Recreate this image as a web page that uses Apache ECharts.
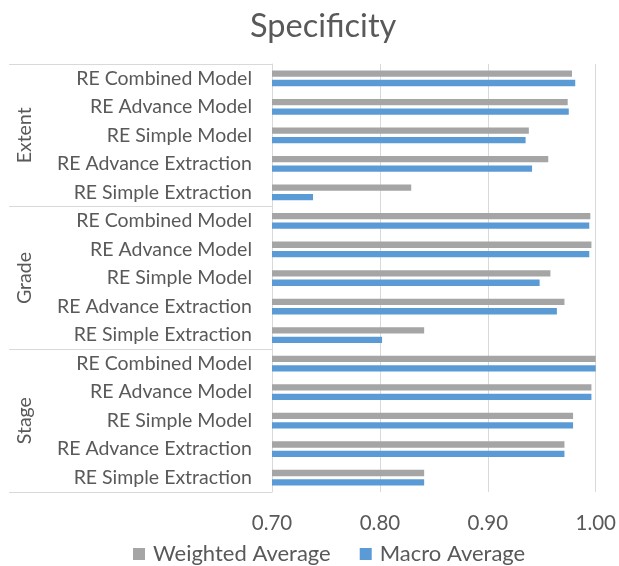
<!DOCTYPE html>
<html>
<head>
<meta charset="utf-8">
<script src="https://cdn.jsdelivr.net/npm/echarts@6/dist/echarts.min.js"></script>
<style>html,body{margin:0;padding:0;background:#fff}#c{width:619px;height:566px}</style>
</head>
<body>
<div id="c"></div>
<script>
const groups = ['Extent', 'Grade', 'Stage'];
const models = ['RE Combined Model', 'RE Advance Model', 'RE Simple Model', 'RE Advance Extraction', 'RE Simple Extraction'];
const categories = [].concat(models, models, models);
const weightedAverage = [0.978, 0.974, 0.938, 0.956, 0.829,
                         0.995, 0.996, 0.958, 0.971, 0.841,
                         1.000, 0.996, 0.979, 0.971, 0.841];
const macroAverage    = [0.981, 0.975, 0.935, 0.941, 0.738,
                         0.994, 0.994, 0.948, 0.964, 0.802,
                         1.000, 0.996, 0.979, 0.971, 0.841];
const xTicks = { min: 0.70, max: 1.00, interval: 0.10 };

const FONT = 'Lato';
const TXT = '#595959';
const LINE = '#d9d9d9';

const chart = echarts.init(document.getElementById('c'), null, { renderer: 'canvas' });
chart.setOption({
  animation: false,
  textStyle: { fontFamily: FONT },
  title: {
    text: 'Specificity', left: 245, top: 5,
    textStyle: { fontFamily: FONT, fontSize: 32.5, fontWeight: 'normal', color: TXT }
  },
  legend: {
    bottom: -4, left: 128, itemWidth: 12, itemHeight: 12, itemGap: 29, icon: 'rect',
    textStyle: { fontFamily: FONT, fontSize: 22, color: TXT, padding: [0, 0, 0, 3] }
  },
  grid: { left: 272, right: 23, top: 64, bottom: 74, containLabel: false },
  xAxis: {
    type: 'value', min: xTicks.min, max: xTicks.max, interval: xTicks.interval,
    axisLine: { show: false }, axisTick: { show: false },
    splitLine: { show: true, lineStyle: { color: LINE, width: 1 } },
    axisLabel: { formatter: v => v.toFixed(2), fontFamily: FONT, fontSize: 20.5, color: TXT, margin: 21 }
  },
  yAxis: [
    {
      type: 'category', data: categories, inverse: true,
      axisLine: { show: true, lineStyle: { color: LINE, width: 1 } },
      axisTick: { show: false },
      axisLabel: { fontFamily: FONT, fontSize: 19.5, color: TXT, margin: 20, interval: 0 }
    },
    {
      type: 'category', data: groups, inverse: true, position: 'left', offset: 0,
      axisLine: { show: false },
      axisTick: { show: true, length: 263, lineStyle: { color: LINE, width: 1 } },
      axisLabel: { fontFamily: FONT, fontSize: 19.5, color: TXT, rotate: 90, margin: 237, interval: 0 }
    }
  ],
  series: [
    {
      name: 'Weighted Average', type: 'bar', data: weightedAverage, yAxisIndex: 0,
      barWidth: 6.3, barGap: '50%', itemStyle: { color: '#A5A5A5' }
    },
    {
      name: 'Macro Average', type: 'bar', data: macroAverage, yAxisIndex: 0,
      barWidth: 6.3, barGap: '50%', itemStyle: { color: '#5B9BD5' }
    }
  ]
});
</script>
</body>
</html>
